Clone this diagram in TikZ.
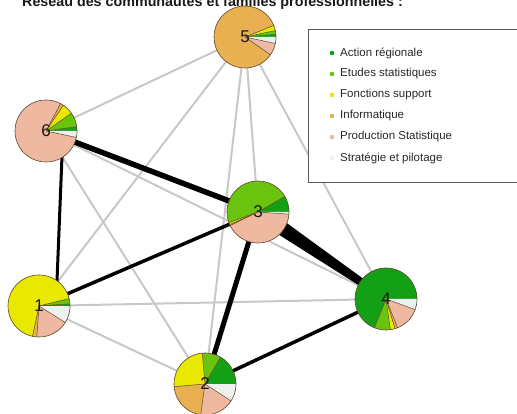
\documentclass[tikz,border=0pt]{standalone}
\usepackage{fontspec}
\setmainfont{Liberation Sans}
\usetikzlibrary{calc}
\definecolor{cAR}{RGB}{20,160,20}
\definecolor{cES}{RGB}{105,195,15}
\definecolor{cFS}{RGB}{232,232,0}
\definecolor{cINF}{RGB}{232,176,80}
\definecolor{cPS}{RGB}{238,185,160}
\definecolor{cSP}{RGB}{240,240,240}
\definecolor{edgegrey}{RGB}{200,200,200}
\definecolor{pieline}{RGB}{90,70,40}
\definecolor{txt}{RGB}{40,40,40}
\newcommand\drawpie[2]{%
  \foreach \a/\b/\c in {#2}{%
    \fill[\c] (#1) -- ($(#1)+(\a:31pt)$) arc[start angle=\a,end angle=\b,radius=31pt] -- cycle;
    \draw[pieline,line width=0.5pt] (#1) -- ($(#1)+(\a:31pt)$);}%
  \draw[pieline,line width=0.6pt] (#1) circle[radius=31pt];}
\tikzset{
  greyedge/.style={draw=edgegrey,line width=2pt},
  blackedge/.style={draw=black,line width=#1},
  lbl/.style={font=\fontsize{17}{17}\selectfont,text=black!90},
  legtext/.style={anchor=west,font=\fontsize{11.5}{12}\selectfont,text=txt,inner sep=0pt},
  legdot/.style={circle,inner sep=0pt,minimum size=4.6pt}
}
\begin{document}
\begin{tikzpicture}[x=1pt,y=1pt]
\useasboundingbox (0,0) rectangle (517,-414);
\clip (0,0) rectangle (517,-414);
\fill[white] (0,0) rectangle (517,-414);
% title (cut off at the top edge, as in the reference)
\node[anchor=base west,inner sep=0pt,font=\bfseries\fontsize{14.3}{15}\selectfont,text=black!90] (title) at (22,-6.5) {Réseau des communautés et familles professionnelles :};
% vertex positions
\coordinate (n5) at (245,-37);
\coordinate (n6) at (46,-131);
\coordinate (n3) at (258,-212);
\coordinate (n4) at (386,-299);
\coordinate (n1) at (39,-306);
\coordinate (n2) at (205,-384);
% grey edges
\draw[greyedge] (n5) -- (n6);
\draw[greyedge] (n5) -- (n1);
\draw[greyedge] (n5) -- (n2);
\draw[greyedge] (n5) -- (n3);
\draw[greyedge] (n5) -- (n4);
\draw[greyedge] (n6) -- (n4);
\draw[greyedge] (n6) -- (n2);
\draw[greyedge] (n1) -- (n4);
\draw[greyedge] (n1) -- (n2);
% black edges
\draw[blackedge=5.5pt] (n6) -- (n3);
\draw[blackedge=3pt] ([xshift=17pt]n6) -- ([xshift=17pt]n1);
\draw[blackedge=3.5pt] (n1) -- (n3);
\draw[blackedge=5pt] (n3) -- (n2);
\draw[blackedge=3.5pt] (n2) -- (n4);
\fill[black] ($(n3)!8pt!90:(n4)$) -- ($(n4)!3pt!-90:(n3)$) -- ($(n4)!3pt!90:(n3)$) -- ($(n3)!8pt!-90:(n4)$) -- cycle;
% pies
\drawpie{n5}{0/5/cAR,5/12/cES,12/22/cFS,22/325/cINF,325/348/cPS,348/360/cSP}
\drawpie{n6}{0/8/cAR,8/35/cES,35/56/cFS,56/62/cINF,62/348/cPS,348/360/cSP}
\drawpie{n3}{0/30/cAR,30/200/cES,200/204/cFS,204/206/cINF,206/356/cPS,356/360/cSP}
\drawpie{n4}{0/248/cAR,248/278/cES,278/287/cFS,287/292/cINF,292/340/cPS,340/360/cSP}
\drawpie{n1}{0/4/cAR,4/14/cES,14/258/cFS,258/266/cINF,266/328/cPS,328/360/cSP}
\drawpie{n2}{0/60/cAR,60/95/cES,95/185/cFS,185/262/cINF,262/327/cPS,327/360/cSP}
% labels
\node[lbl] (l5) at (n5) {5};
\node[lbl] (l6) at (n6) {6};
\node[lbl] (l3) at (n3) {3};
\node[lbl] (l4) at (n4) {4};
\node[lbl] (l1) at (n1) {1};
\node[lbl] (l2) at (n2) {2};
% legend
\draw[fill=white,draw=black!65,line width=1pt] (308,-30) rectangle (540,-183);
\node[legdot,fill=cAR] (d1) at (332,-53) {};
\node[legtext] (t1) at (340,-53) {Action régionale};
\node[legdot,fill=cES] (d2) at (332,-74) {};
\node[legtext] (t2) at (340,-74) {Etudes statistiques};
\node[legdot,fill=cFS] (d3) at (332,-95) {};
\node[legtext] (t3) at (340,-95) {Fonctions support};
\node[legdot,fill=cINF] (d4) at (332,-116) {};
\node[legtext] (t4) at (340,-116) {Informatique};
\node[legdot,fill=cPS] (d5) at (332,-137) {};
\node[legtext] (t5) at (340,-137) {Production Statistique};
\node[legdot,fill=cSP] (d6) at (332,-158) {};
\node[legtext] (t6) at (340,-158) {Stratégie et pilotage};
\end{tikzpicture}
\end{document}
